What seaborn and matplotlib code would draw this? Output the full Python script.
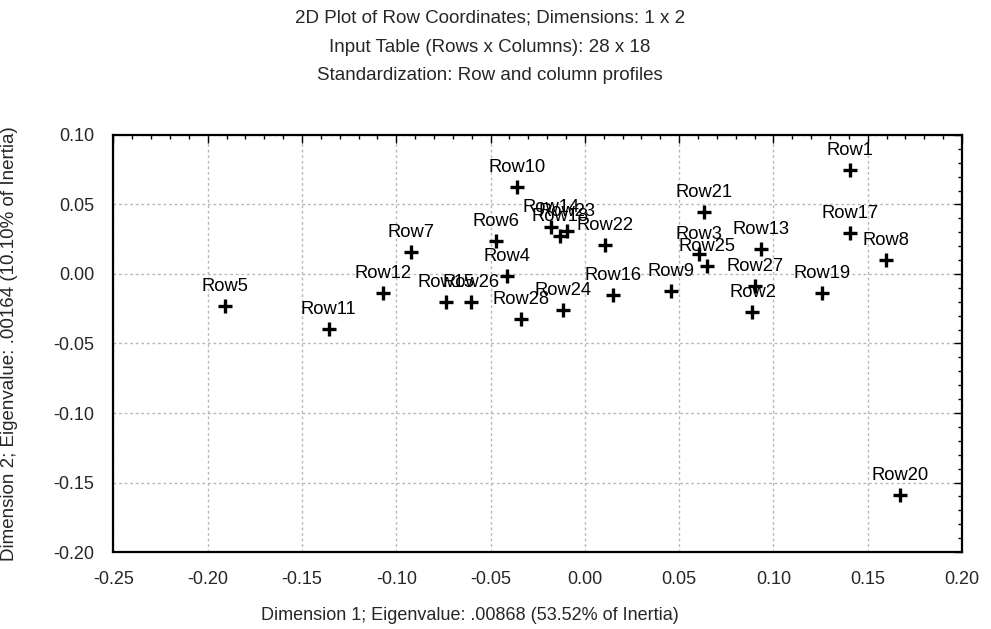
import matplotlib
matplotlib.use("Agg")
import matplotlib.pyplot as plt
from matplotlib.ticker import MultipleLocator
import seaborn as sns
import pandas as pd

labels = ["Row1", "Row2", "Row3", "Row4", "Row5", "Row6", "Row7", "Row8", "Row9", "Row10",
          "Row11", "Row12", "Row13", "Row14", "Row15", "Row16", "Row17", "Row18", "Row19", "Row20",
          "Row21", "Row22", "Row23", "Row24", "Row25", "Row26", "Row27", "Row28"]
dim1 = [0.1405, 0.0889, 0.0603, -0.0415, -0.1909, -0.0472, -0.0924, 0.1596, 0.0456, -0.0362,
        -0.1359, -0.1071, 0.0933, -0.0182, -0.0737, 0.0150, 0.1405, -0.0133, 0.1260, 0.1674,
        0.0633, 0.0106, -0.0094, -0.0118, 0.0649, -0.0604, 0.0903, -0.0338]
dim2 = [0.0748, -0.0273, 0.0144, -0.0014, -0.0230, 0.0235, 0.0160, 0.0101, -0.0124, 0.0624,
        -0.0398, -0.0137, 0.0178, 0.0340, -0.0199, -0.0149, 0.0297, 0.0273, -0.0139, -0.1590,
        0.0446, 0.0206, 0.0312, -0.0259, 0.0058, -0.0199, -0.0086, -0.0322]

df = pd.DataFrame({"label": labels, "d1": dim1, "d2": dim2})

sns.set_theme(style="white")
plt.rcParams["font.family"] = ["Liberation Sans", "DejaVu Sans"]

fig = plt.figure(figsize=(9.91, 6.29), dpi=100)
ax = fig.add_axes([0.1145, 0.1224, 0.8562, 0.663])

sns.scatterplot(data=df, x="d1", y="d2", marker="+", s=90, color="black",
                linewidth=2.4, ax=ax, legend=False, zorder=3)

for lab, x, y in zip(labels, dim1, dim2):
    ax.annotate(lab, (x, y), xytext=(0, 8), textcoords="offset points",
                ha="center", va="bottom", fontsize=13.2, color="black")

ax.set_xlim(-0.25, 0.20)
ax.set_ylim(-0.20, 0.10)
ax.xaxis.set_major_locator(MultipleLocator(0.05))
ax.xaxis.set_minor_locator(MultipleLocator(0.01))
ax.yaxis.set_major_locator(MultipleLocator(0.05))
ax.yaxis.set_minor_locator(MultipleLocator(0.01))
ax.xaxis.set_major_formatter(plt.FuncFormatter(lambda v, p: f"{v:.2f}"))
ax.yaxis.set_major_formatter(plt.FuncFormatter(lambda v, p: f"{v:.2f}"))
ax.tick_params(which="both", direction="in", top=True, right=True, color="black",
               labelsize=13, width=1)
ax.tick_params(which="major", length=6, pad=14)
ax.tick_params(which="minor", length=3)
ax.grid(True, which="major", linestyle=(0, (2, 2)), color="#b8b8b8", linewidth=1)
for s in ax.spines.values():
    s.set_color("black")
    s.set_linewidth(1.6)
ax.set_xlabel("")
ax.set_ylabel("Dimension 2; Eigenvalue: .00164 (10.10% of Inertia)", fontsize=13.5)
ax.yaxis.set_label_coords(-0.1125, 0.5)

fig.text(470 / 991, 1 - 615 / 629, "Dimension 1; Eigenvalue: .00868 (53.52% of Inertia)",
         ha="center", va="center", fontsize=13)
fig.text(490 / 991, 1 - 18 / 629, "2D Plot of Row Coordinates; Dimensions: 1 x 2",
         ha="center", va="center", fontsize=13.5)
fig.text(490 / 991, 1 - 47 / 629, "Input Table (Rows x Columns): 28 x 18",
         ha="center", va="center", fontsize=13.5)
fig.text(490 / 991, 1 - 76 / 629, "Standardization: Row and column profiles",
         ha="center", va="center", fontsize=13.5)

fig.savefig("out.png", dpi=100)
